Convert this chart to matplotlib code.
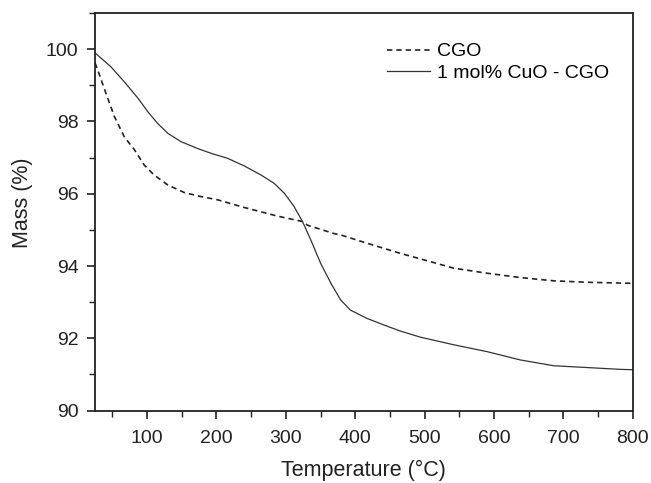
import matplotlib
matplotlib.use("Agg")
import matplotlib.pyplot as plt
from matplotlib.ticker import MultipleLocator

plt.rcParams["font.family"] = ["Liberation Sans", "DejaVu Sans"]

# CGO (dashed)
cgo_temp = [25, 29, 39, 53, 67, 82, 96, 110, 130, 154, 178, 202, 240, 288, 324, 331,
            369, 379, 417, 465, 499, 542, 590, 638, 686, 734, 800]
cgo_mass = [99.62, 99.42, 98.87, 98.13, 97.58, 97.21, 96.79, 96.52, 96.24, 96.03, 95.92,
            95.83, 95.62, 95.38, 95.23, 95.13, 94.90, 94.86, 94.63, 94.35, 94.17, 93.94,
            93.80, 93.68, 93.59, 93.55, 93.52]

# 1 mol% CuO - CGO (solid)
cuo_temp = [25, 29, 48, 67, 87, 101, 115, 130, 149, 173, 192, 216, 240, 264, 283, 298,
            312, 324, 336, 350, 365, 379, 393, 417, 441, 465, 494, 542, 590, 638, 686,
            734, 782, 800]
cuo_mass = [99.90, 99.83, 99.51, 99.10, 98.64, 98.27, 97.95, 97.67, 97.44, 97.25, 97.12,
            96.98, 96.77, 96.52, 96.29, 96.01, 95.64, 95.23, 94.72, 94.08, 93.52, 93.06,
            92.78, 92.55, 92.37, 92.20, 92.03, 91.82, 91.63, 91.40, 91.24, 91.19, 91.14,
            91.13]

fig = plt.figure(figsize=(6.51, 4.83), dpi=100)
ax = fig.add_axes([0.146, 0.150, 0.826, 0.823])

ax.plot(cgo_temp, cgo_mass, color="#222222", lw=1.2, ls=(0, (3.2, 2.4)), label="CGO")
ax.plot(cuo_temp, cuo_mass, color="#333333", lw=0.9, label="1 mol% CuO - CGO")

ax.set_xlim(25, 800)
ax.set_ylim(90, 101)
ax.set_xticks(range(100, 801, 100))
ax.xaxis.set_minor_locator(MultipleLocator(50))
ax.yaxis.set_major_locator(MultipleLocator(2))
ax.yaxis.set_minor_locator(MultipleLocator(1))
ax.tick_params(which="major", direction="out", length=6, width=1.2, labelsize=14,
               colors="#222222", pad=6)
ax.tick_params(which="minor", direction="out", length=4, width=1.0, colors="#222222")
ax.tick_params(axis="x", which="major", pad=8)
ax.tick_params(top=False, right=False, which="both")
for s in ax.spines.values():
    s.set_linewidth(1.3)
    s.set_color("#222222")

ax.set_xlabel("Temperature (°C)", fontsize=15.5, color="#222222", labelpad=9)
ax.set_ylabel("Mass (%)", fontsize=15.5, color="#222222")
ax.yaxis.set_label_coords(-0.115, 0.522)

ax.legend(loc="upper left", bbox_to_anchor=(0.543, 0.925), frameon=False,
          fontsize=14, handlelength=2.2, handletextpad=0.35, labelspacing=0.2,
          borderpad=0, borderaxespad=0)

fig.savefig("out.png", dpi=100)
